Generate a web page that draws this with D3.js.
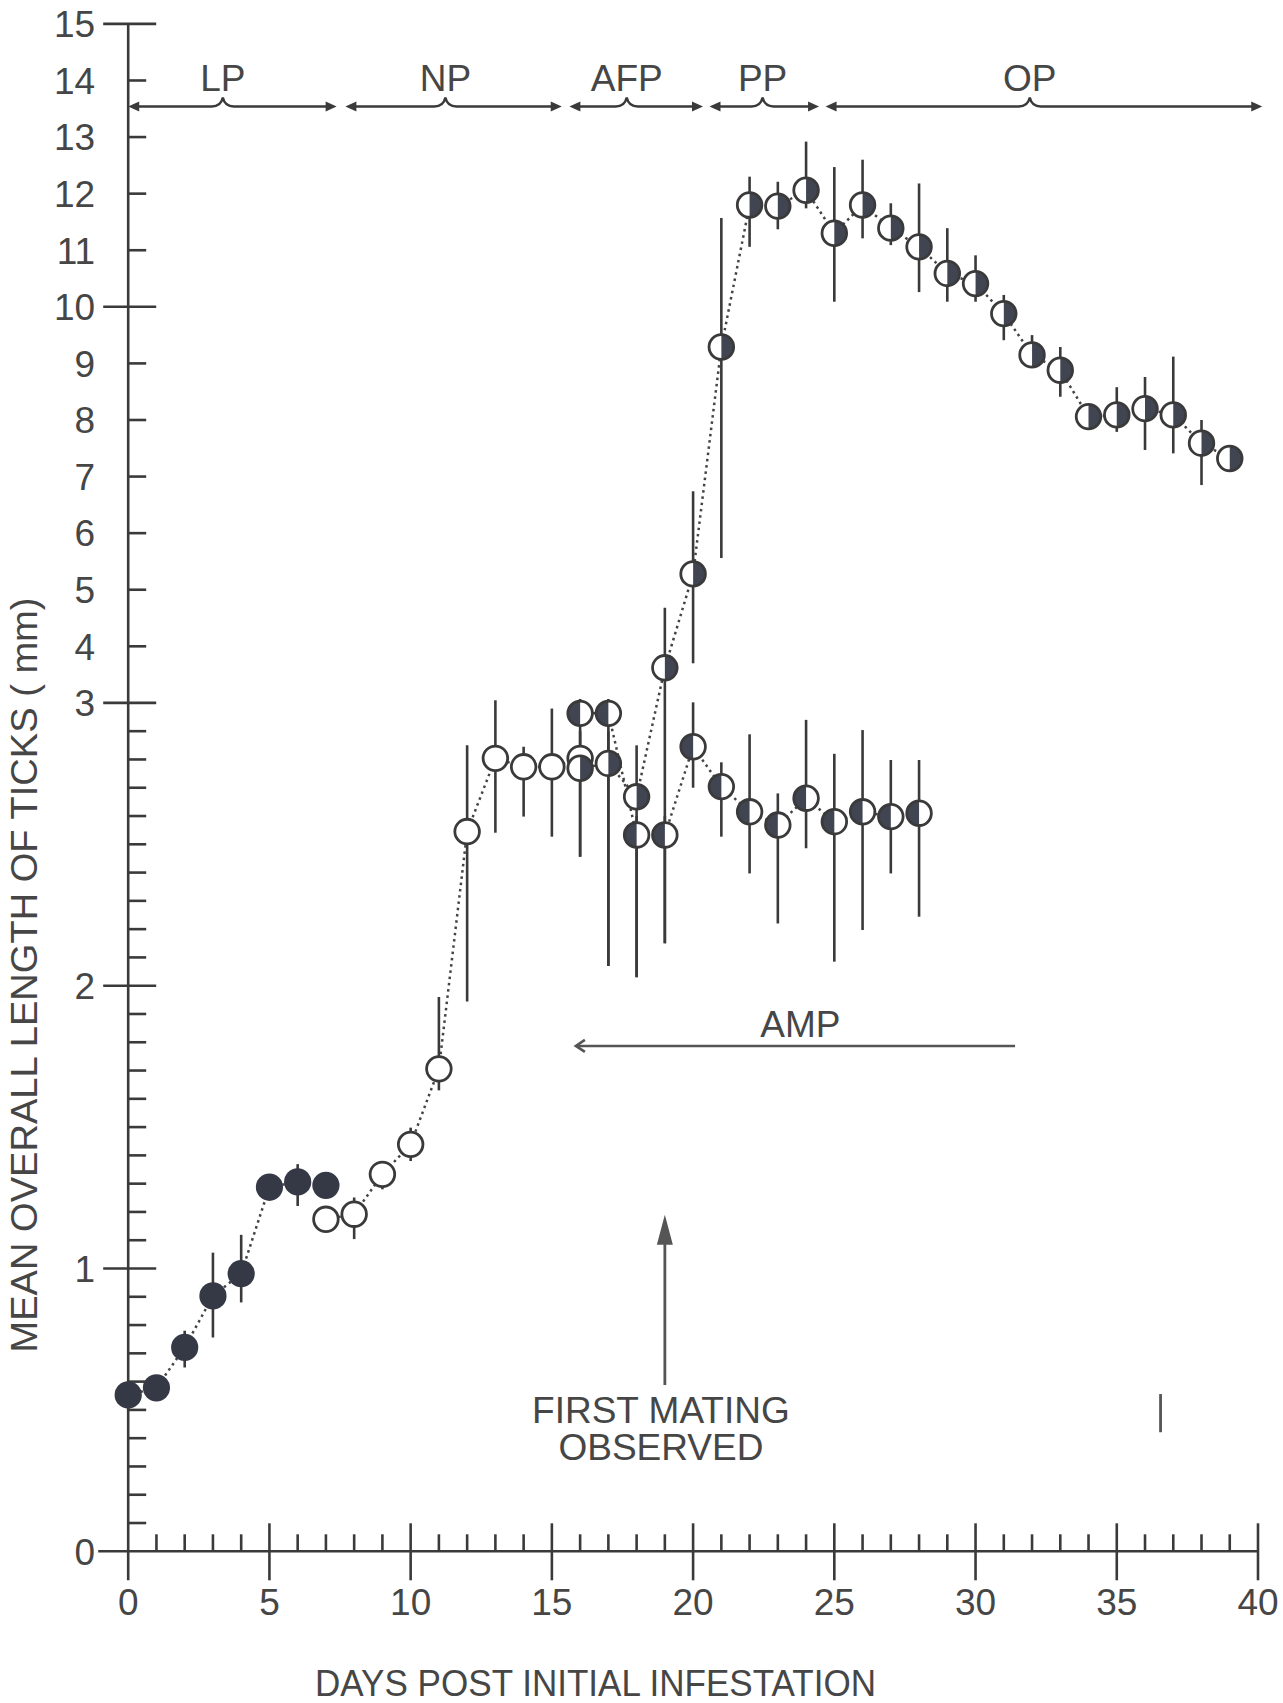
<!DOCTYPE html>
<html><head><meta charset="utf-8">
<script src="https://cdn.jsdelivr.net/npm/d3@7"></script>
<style>
html,body{margin:0;padding:0;background:#ffffff;}
svg{display:block;}
text{font-family:"Liberation Sans",Arial,sans-serif;fill:#464646;}
</style></head><body>
<svg id="chart" width="1283" height="1703"></svg>
<script>
// ---------------- DATA ----------------
// Larvae (filled circles)
const larvaDays = [0,1,2,3,4,5,6,7];
const larvaMean = [0.553,0.578,0.721,0.903,0.982,1.288,1.306,1.294];
const larvaLo   = [0.50,0.55,0.65,0.756,0.88,1.24,1.221,1.294];
const larvaHi   = [0.60,0.60,0.78,1.056,1.119,1.33,1.369,1.294];
// Nymphs (open circles)
const nymphDays = [7,8,9,10,11,12,13,14,15,16];
const nymphMean = [1.174,1.192,1.333,1.439,1.706,2.545,2.804,2.774,2.774,2.804];
const nymphLo   = [1.174,1.104,1.28,1.38,1.63,1.944,2.541,2.598,2.527,2.75];
const nymphHi   = [1.174,1.251,1.38,1.498,1.96,2.85,3.046,2.845,2.98,2.85];
// Adult females (right half filled)
const femaleDays = [16,17,18,19,20,21,22,23,24,25,26,27,28,29,30,31,32,33,34,35,36,37,38,39];
const femaleMean = [2.769,2.786,2.668,3.62,5.28,9.29,11.80,11.78,12.06,11.30,11.80,11.39,11.06,10.59,10.41,9.88,9.15,8.88,8.06,8.09,8.20,8.09,7.59,7.32];
const femaleLo   = [2.456,2.07,2.03,2.15,3.70,5.56,11.06,11.37,11.74,10.09,11.21,11.09,10.26,10.09,10.09,9.41,8.95,8.41,8.06,7.79,7.47,7.41,6.85,7.32];
const femaleHi   = [2.90,2.90,2.85,4.68,6.74,11.57,12.30,12.21,12.92,12.47,12.60,11.83,12.18,11.39,10.91,10.21,9.50,9.29,8.06,8.58,8.76,9.12,8.00,7.32];
// Adult males (left half filled)
const maleDays = [16,17,18,19,20,21,22,23,24,25,26,27,28];
const maleMean = [2.963,2.963,2.533,2.533,2.845,2.704,2.615,2.568,2.663,2.58,2.615,2.598,2.61];
const maleLo   = [2.456,2.07,2.03,2.15,2.70,2.527,2.397,2.22,2.486,2.085,2.197,2.397,2.244];
const maleHi   = [3.07,3.07,2.60,2.60,3.01,2.79,2.889,2.68,2.94,2.82,2.904,2.798,2.798];
// Axis ticks
const xTickLabels = [0,5,10,15,20,25,30,35,40];
const yTickLabels = [0,1,2,3,4,5,6,7,8,9,10,11,12,13,14,15];
const yMajorTicks = [1,2,3,10,15];
// Phases along the top
const phaseNames = ["LP","NP","AFP","PP","OP"];
const phaseStart = [0,7.69,15.62,20.58,24.69];
const phaseEnd   = [7.38,15.35,20.35,24.46,40.15];
const phaseMid   = [3.35,11.23,17.65,22.46,31.92];
// Annotations
const ampText = "AMP";
const ampFrom = 31.4, ampTo = 15.85, ampLevel = 1.787, ampLabelDay = 23.8;
const matingText = ["FIRST MATING","OBSERVED"];
const matingDay = 19.0, matingFrom = 0.588, matingTo = 1.19, matingTextDay = 18.86;
const refBarDay = 36.55, refBarLo = 0.421, refBarHi = 0.556;
const phaseLevel = 13.54;
const xTitle = "DAYS POST INITIAL INFESTATION";
const yTitle = "MEAN OVERALL LENGTH OF TICKS ( mm)";

// ---------------- LAYOUT ----------------
const M = {left:128.2, right:1258, top:23.9, brk:702.9, bottom:1551.3};
const x = d3.scaleLinear().domain([0,40]).range([M.left, M.right]);
const y = d3.scaleLinear().domain([0,3,15]).range([M.bottom, M.brk, M.top]);
const svg = d3.select("#chart");
const ink = "#3a3a3a";
const dark = "#353946";
const halfDark = "#414552";
const FS = 37;

svg.append("rect").attr("width",1283).attr("height",1703).attr("fill","#fff");

// ---------------- AXES ----------------
const ax = svg.append("g").attr("stroke", ink).attr("stroke-width", 2.6).attr("fill","none");
ax.append("line").attr("x1",x(0)).attr("x2",x(0)).attr("y1",y(15)).attr("y2",y(0)+29);
ax.append("line").attr("x1",x(0)-30).attr("x2",x(40)).attr("y1",y(0)).attr("y2",y(0));
yMajorTicks.forEach(v=>ax.append("line").attr("x1",x(0)-25).attr("x2",x(0)+28).attr("y1",y(v)).attr("y2",y(v)));
const yMinor = d3.range(1,30).filter(i=>i%10!==0).map(i=>i/10).concat([4,5,6,7,8,9,11,12,13,14]);
yMinor.forEach(v=>ax.append("line").attr("x1",x(0)).attr("x2",x(0)+18).attr("y1",y(v)).attr("y2",y(v)));
d3.range(1,41).forEach(d=>{
  if(d%5===0) ax.append("line").attr("x1",x(d)).attr("x2",x(d)).attr("y1",y(0)-28).attr("y2",y(0)+29);
  else ax.append("line").attr("x1",x(d)).attr("x2",x(d)).attr("y1",y(0)-17).attr("y2",y(0));
});

const lab = svg.append("g").attr("font-size",FS);
yTickLabels.forEach(v=>lab.append("text").attr("x",x(0)-33).attr("y",y(v)).attr("dy","0.36em")
  .attr("text-anchor","end").text(v));
xTickLabels.forEach(v=>lab.append("text").attr("x",x(v)).attr("y",y(0)+64)
  .attr("text-anchor","middle").text(v));

lab.append("text").attr("x",595.5).attr("y",1696).attr("text-anchor","middle")
  .attr("textLength",561).attr("lengthAdjust","spacingAndGlyphs").text(xTitle);
lab.append("text").attr("transform","translate(37,975) rotate(-90)").attr("text-anchor","middle")
  .attr("textLength",755).attr("lengthAdjust","spacingAndGlyphs").attr("fill","#3f4858").text(yTitle);

// ---------------- PHASES ----------------
const ph = svg.append("g");
const py = y(phaseLevel);
phaseNames.forEach((n,i)=>{
  const x0 = x(phaseStart[i]), x1 = x(phaseEnd[i]), xm = x(phaseMid[i]);
  ph.append("path").attr("fill","none").attr("stroke",ink).attr("stroke-width",2.4)
    .attr("d",`M${x0+4},${py} L${xm-11},${py} Q${xm-2},${py} ${xm},${py-9} Q${xm+2},${py} ${xm+11},${py} L${x1-4},${py}`);
  ph.append("path").attr("fill",ink)
    .attr("d",`M${x0},${py} L${x0+11},${py-5} L${x0+11},${py+5} Z`);
  ph.append("path").attr("fill",ink)
    .attr("d",`M${x1},${py} L${x1-11},${py-5} L${x1-11},${py+5} Z`);
  ph.append("text").attr("x",xm).attr("y",py-16).attr("font-size",FS).attr("text-anchor","middle").text(n);
});

// ---------------- ANNOTATIONS ----------------
const an = svg.append("g");
const ay = y(ampLevel);
an.append("line").attr("x1",x(ampFrom)).attr("x2",x(ampTo)+2).attr("y1",ay).attr("y2",ay)
  .attr("stroke","#555").attr("stroke-width",2.6);
an.append("path").attr("fill","none").attr("stroke","#555").attr("stroke-width",2.6)
  .attr("d",`M${x(ampTo)+9},${ay-6} L${x(ampTo)},${ay} L${x(ampTo)+9},${ay+6}`);
an.append("text").attr("x",x(ampLabelDay)).attr("y",ay-9).attr("font-size",FS).attr("text-anchor","middle").text(ampText);

const mx = x(matingDay);
an.append("line").attr("x1",mx).attr("x2",mx).attr("y1",y(matingFrom)).attr("y2",y(matingTo)+20)
  .attr("stroke","#555").attr("stroke-width",2.8);
an.append("path").attr("fill","#555")
  .attr("d",`M${mx},${y(matingTo)} L${mx-8},${y(matingTo)+30} L${mx+8},${y(matingTo)+30} Z`);
matingText.forEach((t,i)=>an.append("text").attr("x",x(matingTextDay)).attr("y",y(matingFrom)+38+i*37)
  .attr("font-size",FS).attr("text-anchor","middle").text(t));
an.append("line").attr("x1",x(refBarDay)).attr("x2",x(refBarDay)).attr("y1",y(refBarLo)).attr("y2",y(refBarHi))
  .attr("stroke","#555").attr("stroke-width",2.8);

// ---------------- SERIES ----------------
const series = [
  {days:larvaDays, mean:larvaMean, lo:larvaLo, hi:larvaHi, type:"filled"},
  {days:nymphDays, mean:nymphMean, lo:nymphLo, hi:nymphHi, type:"open"},
  {days:maleDays, mean:maleMean, lo:maleLo, hi:maleHi, type:"left"},
  {days:femaleDays, mean:femaleMean, lo:femaleLo, hi:femaleHi, type:"right"}
];
const toPts = s => s.days.map((d,i)=>({d, m:s.mean[i], lo:s.lo[i], hi:s.hi[i]}));

const eb = svg.append("g").attr("stroke",ink).attr("stroke-width",2.6);
series.forEach(s=>toPts(s).forEach(p=>{
  if(p.hi>p.lo) eb.append("line").attr("x1",x(p.d)).attr("x2",x(p.d)).attr("y1",y(p.lo)).attr("y2",y(p.hi));
}));

const line = d3.line().x(p=>x(p.d)).y(p=>y(p.m));
const dl = svg.append("g");
series.forEach(s=>dl.append("path").attr("d",line(toPts(s))).attr("fill","none")
  .attr("stroke","#444").attr("stroke-width",2.5).attr("stroke-dasharray","2.5 3.8"));

const mk = svg.append("g");
const R = 12.3;
function drawMarker(p, type){
  const cx = x(p.d), cy = y(p.m);
  if(type==="filled"){
    mk.append("circle").attr("cx",cx).attr("cy",cy).attr("r",13.6).attr("fill",dark);
    return;
  }
  mk.append("circle").attr("cx",cx).attr("cy",cy).attr("r",R).attr("fill","#fff");
  if(type==="left"||type==="right"){
    const sweep = type==="right"?1:0;
    mk.append("path").attr("fill",halfDark)
      .attr("d",`M${cx},${cy-R} A${R},${R} 0 0 ${sweep} ${cx},${cy+R} Z`);
  }
  mk.append("circle").attr("cx",cx).attr("cy",cy).attr("r",R).attr("fill","none")
    .attr("stroke",ink).attr("stroke-width",2.8);
}
series.forEach(s=>toPts(s).forEach(p=>drawMarker(p,s.type)));
</script>
</body></html>
